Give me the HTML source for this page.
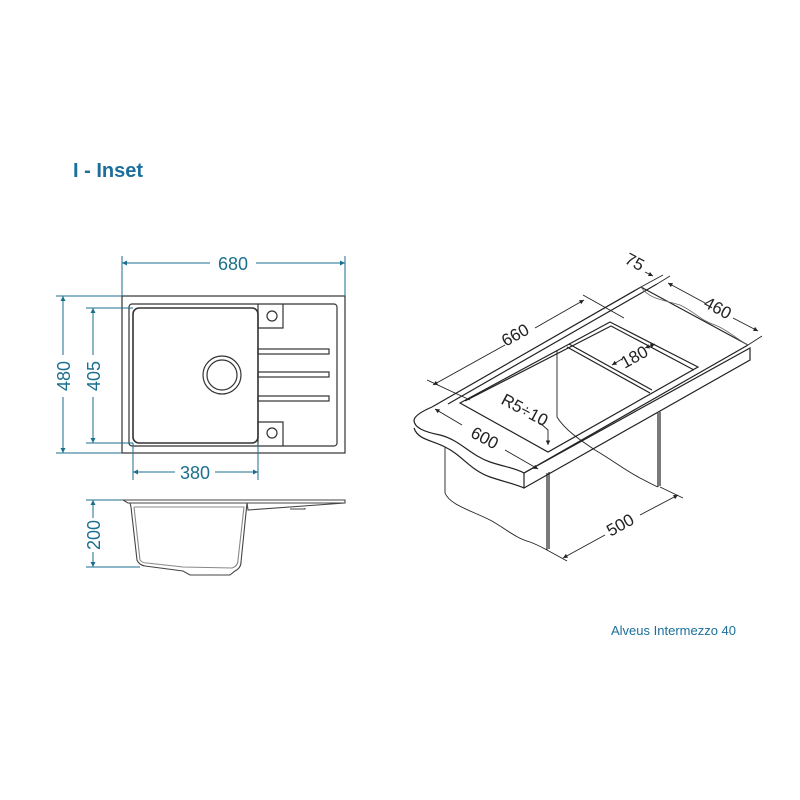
<!DOCTYPE html>
<html><head><meta charset="utf-8"><style>
html,body{margin:0;padding:0;background:#fff;}
svg{display:block;}
.t{font-family:"Liberation Sans","DejaVu Sans",sans-serif;}
</style></head><body>
<svg width="800" height="800" viewBox="0 0 800 800" xmlns="http://www.w3.org/2000/svg">
<defs>
<marker id="a" viewBox="0 0 10 10" refX="10" refY="5" markerWidth="7" markerHeight="5" orient="auto-start-reverse"><path d="M0,0L10,5L0,10z" fill="#1b6f8e"/></marker>
<marker id="k" viewBox="0 0 10 10" refX="10" refY="5" markerWidth="7" markerHeight="5" orient="auto-start-reverse"><path d="M0,0L10,5L0,10z" fill="#222"/></marker>
</defs>
<text x="73" y="177" class="t" font-size="20" font-weight="bold" fill="#1b6f9a">I - Inset</text>

<g fill="none" stroke="#333" stroke-width="1.2">
<rect x="122" y="296" width="223" height="157"/>
<rect x="129" y="304" width="208" height="142" rx="3"/>
<rect x="133" y="308" width="125" height="135" rx="6" stroke-width="1.6"/>
<circle cx="222" cy="375" r="19"/>
<circle cx="222" cy="375" r="15"/>
<path d="M258,304V328H283V304"/>
<circle cx="272" cy="316" r="5"/>
<path d="M258,446V422H283V446"/>
<circle cx="272" cy="433" r="5"/>
<rect x="258" y="349" width="71" height="5"/>
<rect x="258" y="372" width="71" height="5"/>
<rect x="258" y="396" width="71" height="5"/>
</g>
<g stroke="#1b6f8e" stroke-width="1" fill="none">
<path d="M122,256V296M345,256V296"/>
<path d="M56,296H122M56,453H122"/>
<path d="M86,308H133M86,443H133"/>
<path d="M133,443V480M258,443V480"/>
<line x1="122" y1="263" x2="210" y2="263" marker-start="url(#a)"/>
<line x1="256" y1="263" x2="345" y2="263" marker-end="url(#a)"/>
<line x1="63" y1="296" x2="63" y2="355" marker-start="url(#a)"/>
<line x1="63" y1="397" x2="63" y2="453" marker-end="url(#a)"/>
<line x1="93" y1="308" x2="93" y2="355" marker-start="url(#a)"/>
<line x1="93" y1="397" x2="93" y2="443" marker-end="url(#a)"/>
<line x1="133" y1="472" x2="175" y2="472" marker-start="url(#a)"/>
<line x1="215" y1="472" x2="258" y2="472" marker-end="url(#a)"/>
<path d="M86,500H122M86,567H140"/>
<line x1="93" y1="500" x2="93" y2="518" marker-start="url(#a)"/>
<line x1="93" y1="552" x2="93" y2="567" marker-end="url(#a)"/>
</g>
<g class="t" fill="#1b6f8e" font-size="18" text-anchor="middle">
<text x="233" y="270">680</text>
<text x="195" y="479">380</text>
<text transform="translate(70,376) rotate(-90)">480</text>
<text transform="translate(100,376) rotate(-90)">405</text>
<text transform="translate(100,535) rotate(-90)">200</text>
</g>
<g fill="none" stroke="#444" stroke-width="1.1">
<path d="M123,500H345V503H128Z"/>
<path d="M130,503L131,507L137,560Q139,565 145,566L183,571L190,575H230L235,571Q241,568 241,562L247,503"/>
<path d="M134,507L140,560Q142,563 147,563L183,567L232,568Q238,566 238,560L244,507L134,507" stroke="#888"/>
<path d="M247,503L248,510L345,503"/>
<path d="M290,509H305V508"/>
</g>

<g fill="none" stroke="#222" stroke-width="1.2">
<path d="M432,407L641,287L748,345"/>
<path d="M448,404L657,284"/>
<path d="M524,473L750,348V360L524,488Z"/>
<path d="M524,473L748,345"/>
<path d="M414,420C415,415 425,410 432,407"/>
<path d="M414,420C414,428 425,432 440,435C460,440 470,455 490,462C505,467 515,468 524,473"/>
<path d="M414,428C418,440 432,440 445,447C462,455 470,470 490,477C505,482 515,484 524,488"/>
<path d="M641,287C650,300 665,300 680,305C695,312 700,320 715,325C728,330 735,338 748,345" stroke="#666" stroke-width="0.8"/>
<path d="M460,403L610,322L698,367L548,452Z"/>
<path d="M465,401L611,326L694,370"/>
<path d="M567,347L650,393M569,344L652,390"/>
<path d="M547,473V550M549,472V549"/>
<path d="M658,413V487M660,412V486"/>
<path d="M445,447V493C450,505 470,510 490,520C505,528 515,538 530,542C538,545 543,548 547,550" stroke-width="0.9"/>
<path d="M557,350V417C565,430 580,440 595,450C612,460 625,470 640,478C648,482 653,485 658,487" stroke-width="0.9"/>
</g>
<g stroke="#222" stroke-width="0.9" fill="none">
<path d="M427,380L470,400M583,295L624,318"/>
<line x1="433" y1="385" x2="505" y2="345" marker-start="url(#k)"/>
<line x1="535" y1="328" x2="584" y2="300" marker-end="url(#k)"/>
<path d="M641,287L663,275M657,284L670,276M748,345L762,336"/>
<line x1="645" y1="272" x2="653" y2="276" marker-end="url(#k)"/>
<line x1="668" y1="283" x2="705" y2="303" marker-start="url(#k)"/>
<line x1="733" y1="318" x2="758" y2="331" marker-end="url(#k)"/>
<line x1="435" y1="409" x2="462" y2="425" marker-start="url(#k)"/>
<line x1="505" y1="450" x2="538" y2="469" marker-end="url(#k)"/>
<path d="M547,550L567,561M660,487L683,498"/>
<line x1="563" y1="558" x2="605" y2="535" marker-start="url(#k)"/>
<line x1="640" y1="515" x2="678" y2="495" marker-end="url(#k)"/>
<line x1="645" y1="348" x2="655" y2="344" marker-end="url(#k)" marker-start="url(#k)"/>
<line x1="612" y1="365" x2="622" y2="359" marker-start="url(#k)"/>
<path d="M540,423L548,430V445" marker-end="url(#k)"/>
</g>
<g class="t" fill="#222" font-size="17" text-anchor="middle">
<text transform="translate(518,340) rotate(-29)">660</text>
<text transform="translate(632,267) rotate(28)">75</text>
<text transform="translate(715,313) rotate(28)">460</text>
<text transform="translate(482,443) rotate(28)">600</text>
<text transform="translate(522,415) rotate(28)">R5÷10</text>
<text transform="translate(637,362) rotate(-29)">180</text>
<text transform="translate(623,530) rotate(-29)">500</text>
</g>
<text x="611" y="635" class="t" font-size="13" fill="#1b6f9a">Alveus Intermezzo 40</text>
</svg>
</body></html>
